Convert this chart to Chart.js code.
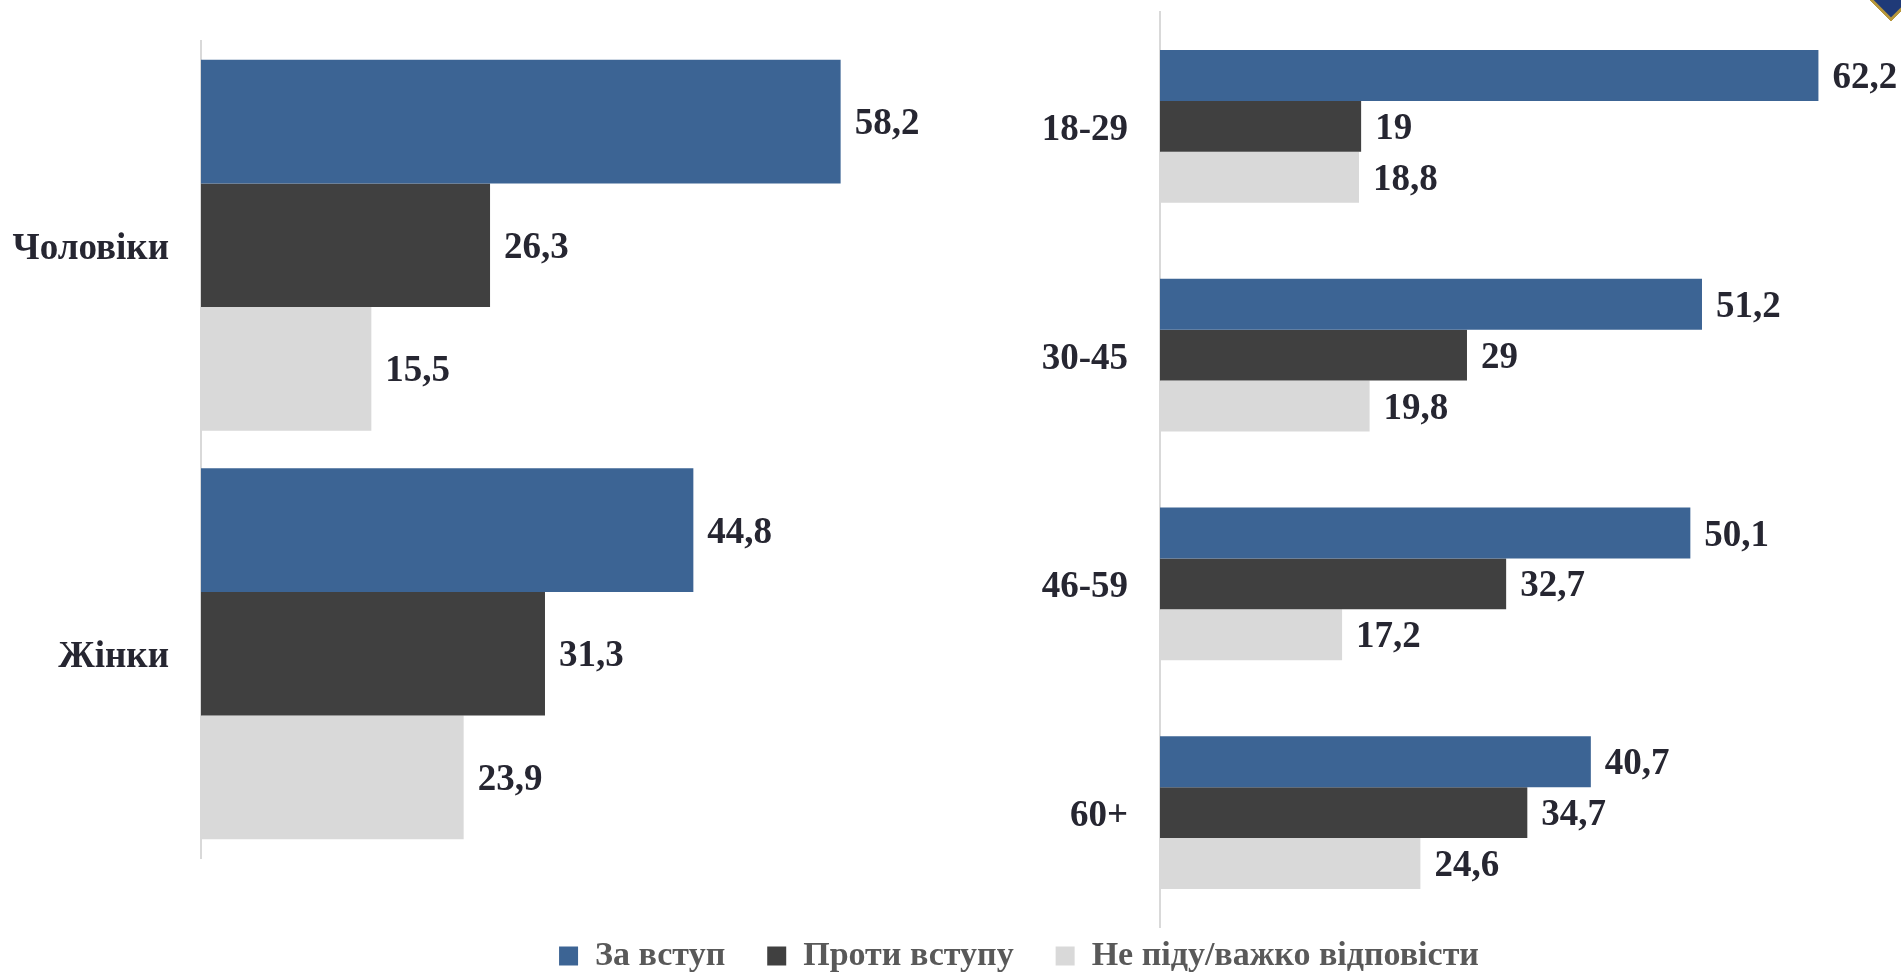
<!DOCTYPE html>
<html>
<head>
<meta charset="utf-8">
<script src="https://cdn.jsdelivr.net/npm/chart.js@4.4.1/dist/chart.umd.min.js"></script>
<style>
  html, body { margin: 0; padding: 0; width: 1901px; height: 973px; overflow: hidden; background: #fff; }
  #genderChart { position: absolute; left: 0; top: 0; }
  #ageChart { position: absolute; left: 138px; top: 0; }
  .corner {
    position: absolute; left: 1858px; top: -58px; width: 60px; height: 60px;
    background: #1f3a78; border: 3px solid #b8973a; transform: rotate(45deg);
  }
</style>
</head>
<body>
<canvas id="genderChart" width="2038" height="973" style="width:2038px;height:973px"></canvas>
<canvas id="ageChart" width="1763" height="973" style="width:1763px;height:973px"></canvas>
<div class="corner"></div>
<script>
const seriesNames = ['За вступ', 'Проти вступу', 'Не піду/важко відповісти'];
const seriesColors = ['#3c6494', '#404040', '#d9d9d9'];

const genderLabels  = ['Чоловіки', 'Жінки'];
const genderFor     = [58.2, 44.8];
const genderAgainst = [26.3, 31.3];
const genderUnsure  = [15.5, 23.9];

const ageLabels  = ['18-29', '30-45', '46-59', '60+'];
const ageFor     = [62.2, 51.2, 50.1, 40.7];
const ageAgainst = [19, 29, 32.7, 34.7];
const ageUnsure  = [18.8, 19.8, 17.2, 24.6];

const FONT = '"Liberation Serif", "Times New Roman", serif';
const TEXT = '#262631';

// value labels at the end of every bar, comma as decimal mark
const valueLabels = {
    id: 'valueLabels',
    afterDatasetsDraw(chart) {
        const ctx = chart.ctx;
        ctx.save();
        ctx.font = 'bold 37px ' + FONT;
        ctx.fillStyle = TEXT;
        ctx.textAlign = 'left';
        ctx.textBaseline = 'middle';
        chart.data.datasets.forEach((ds, i) => {
            chart.getDatasetMeta(i).data.forEach((bar, j) => {
                ctx.fillText(String(ds.data[j]).replace('.', ','), bar.x + 14, bar.y + 3);
            });
        });
        ctx.restore();
    }
};

const makeDatasets = (lists) => lists.map((d, i) => ({
    label: seriesNames[i],
    data: d,
    backgroundColor: seriesColors[i],
    borderWidth: 0,
    barPercentage: 1.0
}));

// bottomGap: invisible x axis height (space between plot and legend)
const makeOptions = (axisWidth, xMax, catPct, padding, showLegend, bottomGap) => ({
    indexAxis: 'y',
    responsive: false,
    animation: false,
    layout: { padding: padding },
    datasets: { bar: { categoryPercentage: catPct, barPercentage: 1.0 } },
    scales: {
        x: {
            display: bottomGap > 0, min: 0, max: xMax,
            ticks: { display: false },
            grid: { display: false },
            border: { display: false },
            afterFit: (s) => { s.height = bottomGap; }
        },
        y: {
            afterFit: (s) => { s.width = axisWidth; s.paddingTop = 0; s.paddingBottom = 0; },
            grid: { display: false, drawTicks: false },
            border: { display: true, color: '#d9d9d9', width: 2 },
            ticks: { padding: 32, labelOffset: 4, color: TEXT, font: { family: FONT, size: 37, weight: 'bold' } }
        }
    },
    plugins: {
        tooltip: { enabled: false },
        legend: {
            display: showLegend,
            position: 'bottom',
            maxHeight: 76,
            labels: {
                boxWidth: 19, boxHeight: 19, padding: 42,
                color: '#595959',
                font: { family: FONT, size: 34, weight: 'bold' }
            }
        }
    }
});

// left panel carries the shared legend (canvas centred on the legend position)
new Chart(document.getElementById('genderChart'), {
    type: 'bar',
    data: { labels: genderLabels, datasets: makeDatasets([genderFor, genderAgainst, genderUnsure]) },
    options: makeOptions(201, 167.15, 0.908, { top: 41, bottom: 0, right: 0, left: 0 }, true, 39),
    plugins: [valueLabels]
});

new Chart(document.getElementById('ageChart'), {
    type: 'bar',
    data: { labels: ageLabels, datasets: makeDatasets([ageFor, ageAgainst, ageUnsure]) },
    options: makeOptions(1022, 70, 0.667, { top: 12, bottom: 46, right: 0, left: 0 }, false, 0),
    plugins: [valueLabels]
});
</script>
</body>
</html>
